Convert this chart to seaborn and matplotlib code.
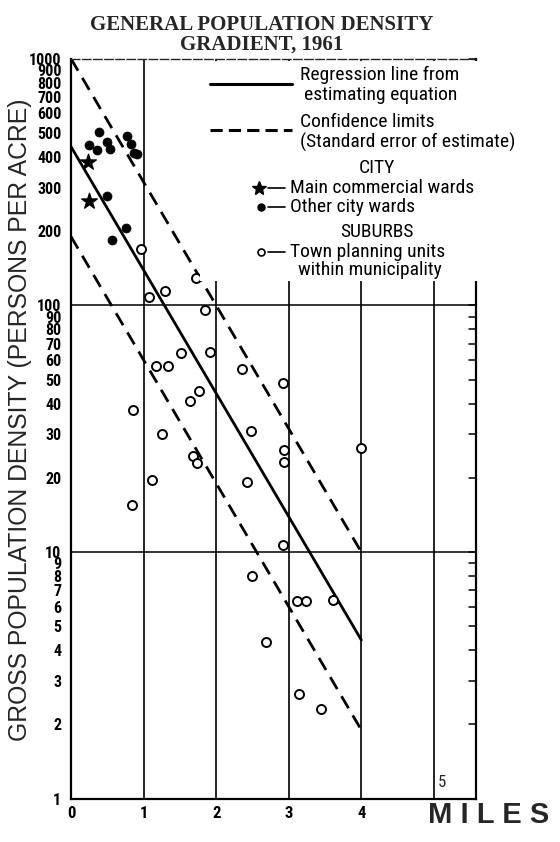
import matplotlib
matplotlib.use("Agg")
import matplotlib.pyplot as plt
from matplotlib import font_manager
from matplotlib.lines import Line2D
from matplotlib.patches import Rectangle
import matplotlib.ticker as mticker
import seaborn as sns

# ---- data ----
star_x = [0.23, 0.25]
star_y = [380, 265]

city_x = [0.25, 0.36, 0.38, 0.50, 0.54, 0.77, 0.82, 0.87, 0.91, 0.49, 0.76, 0.56]
city_y = [447, 428, 506, 461, 431, 485, 451, 414, 410, 278, 206, 184]

suburb_x = [0.97, 1.72, 1.30, 1.08, 1.85, 1.17, 1.33, 1.52, 1.91, 2.36, 2.92, 1.77,
            1.64, 0.85, 1.26, 2.48, 2.93, 2.94, 4.00, 1.68, 1.74, 2.42, 1.12, 0.84,
            2.92, 2.50, 2.69, 3.12, 3.24, 3.61, 3.14, 3.44]
suburb_y = [169, 129, 114, 108, 96, 57, 57, 64, 65, 55, 48.5, 45,
            41, 37.5, 30, 31, 26, 23.2, 26.5, 24.4, 22.9, 19.2, 19.5, 15.5,
            10.7, 8.0, 4.3, 6.35, 6.35, 6.4, 2.65, 2.32]

line_x = [0, 4]
regression_y = [440, 4.4]
upper_y = [1000, 10]
lower_y = [190, 1.9]

y_ticks = [1, 2, 3, 4, 5, 6, 7, 8, 9, 10, 20, 30, 40, 50, 60, 70, 80, 90,
           100, 200, 300, 400, 500, 600, 700, 800, 900, 1000]
x_ticks = [0, 1, 2, 3, 4]

sns.set_style("white")

# pick a narrow sans if one is installed
names = {f.name for f in font_manager.fontManager.ttflist}
narrow = "Liberation Sans"
for cand in ["Liberation Sans Narrow", "Roboto Condensed", "Open Sans Condensed",
             "DejaVu Sans Condensed"]:
    if cand in names:
        narrow = cand
        break
else:
    for n in sorted(names):
        if "Condensed" in n or "Narrow" in n:
            narrow = n
            break
plt.rcParams["font.family"] = ["Liberation Sans", "DejaVu Sans"]
NARROW = [narrow, "Liberation Sans", "DejaVu Sans"]

W, H = 560, 842
fig = plt.figure(figsize=(W / 100, H / 100), dpi=100)
ax = fig.add_axes([71 / W, 1 - 798.7 / H, 405 / W, 740 / H])


def fx(px):
    return px / W


def fy(py):
    return 1 - py / H


# grid lines
for xv in [1, 2, 3, 4, 5]:
    ax.axvline(xv, color="black", lw=1.2, zorder=1)
for yv in [10, 100]:
    ax.axhline(yv, color="black", lw=1.1, zorder=1)

# regression and confidence lines
sns.lineplot(x=line_x, y=regression_y, color="black", lw=2.0, ax=ax, zorder=2)
sns.lineplot(x=line_x, y=upper_y, color="black", lw=2.0, linestyle=(0, (5, 3)), ax=ax, zorder=2)
sns.lineplot(x=line_x, y=lower_y, color="black", lw=2.0, linestyle=(0, (5, 3)), ax=ax, zorder=2)

# points
sns.scatterplot(x=suburb_x, y=suburb_y, marker="o", s=42, facecolors="white",
                edgecolor="black", linewidth=1.4, ax=ax, zorder=3)
sns.scatterplot(x=city_x, y=city_y, marker="o", s=42, color="black",
                edgecolor="black", ax=ax, zorder=3)
sns.scatterplot(x=star_x, y=star_y, marker="*", s=140, color="black",
                edgecolor="black", ax=ax, zorder=3)

ax.set_yscale("log")
ax.set_xlim(0, 5.58)
ax.set_ylim(1, 1000)
ax.set_yticks(y_ticks)
ax.yaxis.set_minor_locator(mticker.NullLocator())
ax.set_yticklabels([str(v) for v in y_ticks])
ax.set_xticks(x_ticks)
ax.set_xticklabels([str(v) for v in x_ticks])
for lab in ax.get_yticklabels():
    lab.set_fontfamily(NARROW)
    lab.set_fontweight("bold")
    lab.set_fontsize(11.5)
for lab in ax.get_xticklabels():
    lab.set_fontfamily(NARROW)
    lab.set_fontweight("bold")
    lab.set_fontsize(12)
ax.tick_params(axis="y", direction="out", length=6, width=1.2, pad=1, colors="black")
ax.tick_params(axis="x", length=0, pad=5, colors="black")
ax.set_xlabel("")
ax.set_ylabel("")

for side in ["left", "bottom", "right"]:
    ax.spines[side].set_color("black")
    ax.spines[side].set_linewidth(1.6)
ax.spines["top"].set_linestyle((0, (6, 2)))
ax.spines["top"].set_linewidth(1.0)

# right-hand ticks (inward)
for v in y_ticks:
    ax.plot([5.58 - 0.1, 5.58], [v, v], color="black", lw=1.1, zorder=1, clip_on=False)

ax.text(5.06, 1.08, "5", fontsize=12, fontfamily=NARROW, ha="left", va="bottom")

# legend box covering grid
ax.add_patch(Rectangle((fx(200), fy(281)), fx(560) - fx(200), fy(61) - fy(281),
                       transform=fig.transFigure, facecolor="white", edgecolor="none",
                       zorder=5, clip_on=False))

lg = dict(fontsize=14, fontfamily=NARROW, color="black", zorder=6)
fig.add_artist(Line2D([fx(210), fx(292)], [fy(84), fy(84)], color="black", lw=2.2))
fig.add_artist(Line2D([fx(210), fx(292)], [fy(130), fy(130)], color="black", lw=2.2,
                      linestyle=(0, (4, 2))))
fig.text(fx(300), fy(75), "Regression line from", va="center", ha="left", **lg)
fig.text(fx(304), fy(95), "estimating equation", va="center", ha="left", **lg)
fig.text(fx(300), fy(122), "Confidence limits", va="center", ha="left", **lg)
fig.text(fx(300), fy(142), "(Standard error of estimate)", va="center", ha="left", **lg)
fig.text(fx(377), fy(168), "CITY", va="center", ha="center", **lg)
fig.text(fx(377), fy(232), "SUBURBS", va="center", ha="center", **lg)
fig.text(fx(290), fy(188), "Main commercial wards", va="center", ha="left", **lg)
fig.text(fx(290), fy(207), "Other city wards", va="center", ha="left", **lg)
fig.text(fx(290), fy(252), "Town planning units", va="center", ha="left", **lg)
fig.text(fx(298), fy(270), "within municipality", va="center", ha="left", **lg)
for py in [188, 207, 252]:
    fig.add_artist(Line2D([fx(268), fx(285)], [fy(py), fy(py)], color="black", lw=1.2))
fig.add_artist(Line2D([fx(259)], [fy(188)], marker="*", markersize=10, color="black"))
fig.add_artist(Line2D([fx(261)], [fy(207)], marker="o", markersize=5, color="black"))
fig.add_artist(Line2D([fx(261)], [fy(252)], marker="o", markersize=5,
                      markerfacecolor="white", markeredgecolor="black", markeredgewidth=1.2))

# titles
fig.text(fx(262), fy(25), "GENERAL POPULATION DENSITY", ha="center", va="center",
         fontsize=15, fontweight="bold", fontfamily=["Liberation Serif", "DejaVu Serif"])
fig.text(fx(262), fy(45), "GRADIENT, 1961", ha="center", va="center",
         fontsize=15, fontweight="bold", fontfamily=["Liberation Serif", "DejaVu Serif"])
fig.text(fx(20), fy(420), "GROSS POPULATION DENSITY (PERSONS PER ACRE)", rotation=90,
         ha="center", va="center", fontsize=17.8)
fig.text(fx(489), fy(815), "M I L E S", ha="center", va="center", fontsize=21,
         fontweight="bold")

fig.savefig("out.png", dpi=100)
